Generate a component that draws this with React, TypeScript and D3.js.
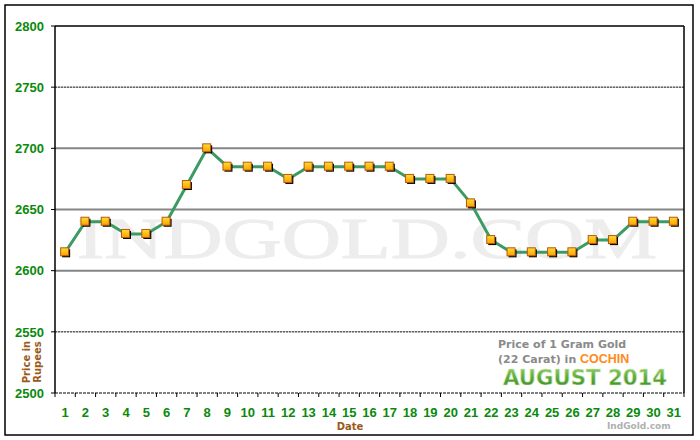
import React from "react";
import * as d3 from "d3";

const days: string[] = Array.from({ length: 31 }, (_, i) => String(i + 1));
const prices: number[] = [
  2615, 2640, 2640, 2630, 2630, 2640, 2670, 2700, 2685, 2685,
  2685, 2675, 2685, 2685, 2685, 2685, 2685, 2675, 2675, 2675,
  2655, 2625, 2615, 2615, 2615, 2615, 2625, 2625, 2640, 2640, 2640,
];
const yTicks: number[] = [2500, 2550, 2600, 2650, 2700, 2750, 2800];
const titleLine1 = "Price of 1 Gram Gold";
const titleLine2a = "(22 Carat) in ";
const titleCity = "COCHIN";
const titleMonth = "AUGUST 2014";

const W = 700, H = 440;
const L = 55, R = 684, T = 26, B = 393;

export default function App() {
  const x = d3.scaleBand<string>().domain(days).range([L, R]).padding(0);
  const y = d3.scaleLinear().domain([2500, 2800]).range([B, T]);
  const cx = (d: string) => (x(d) as number) + x.bandwidth() / 2;
  const line = d3
    .line<number>()
    .x((_, i) => cx(days[i]))
    .y((v) => y(v));
  const font = "'Liberation Sans', Arial, sans-serif";
  const vfont = "'DejaVu Sans', Verdana, sans-serif";
  const boundaries = days.map((d) => x(d) as number).concat([R]);

  return (
    <svg
      width={W}
      height={H}
      style={{ position: "absolute", left: 0, top: 0, background: "#fff" }}
    >
      <defs>
        <linearGradient id="mk" x1="0" y1="0" x2="0" y2="1">
          <stop offset="0" stopColor="#ffdd33" />
          <stop offset="1" stopColor="#ffa000" />
        </linearGradient>
        <linearGradient id="aug" x1="0" y1="0" x2="0" y2="1">
          <stop offset="0" stopColor="#9ad26a" />
          <stop offset="0.5" stopColor="#5aa83a" />
          <stop offset="1" stopColor="#3d8a22" />
        </linearGradient>
      </defs>
      <rect x={0} y={0} width={W} height={H} fill="#fff" />
      <rect x={5} y={5} width={688} height={430} fill="#fff" stroke="#000" strokeWidth={1.5} />

      {/* watermark */}
      <text
        x={77}
        y={258}
        fontFamily="'Liberation Serif', 'Times New Roman', serif"
        fontSize={57}
        fill="#ededed"
        stroke="#ededed"
        strokeWidth={1}
        textLength={580}
        lengthAdjust="spacingAndGlyphs"
      >
        INDGOLD.COM
      </text>

      {/* grid lines */}
      {yTicks
        .filter((t) => t > 2500 && t < 2800)
        .map((t) =>
          t === 2550 || t === 2750 ? (
            <g key={t}>
              <line x1={L} x2={R} y1={y(t)} y2={y(t)} stroke="#b0b0b0" strokeWidth={1} />
              <line x1={L} x2={R} y1={y(t)} y2={y(t)} stroke="#333" strokeWidth={1} strokeDasharray="2,1" />
            </g>
          ) : (
            <line key={t} x1={L} x2={R} y1={y(t)} y2={y(t)} stroke="#858585" strokeWidth={2} />
          )
        )}
      <line x1={L} x2={R} y1={B} y2={B} stroke="#000" strokeWidth={1} strokeDasharray="3,1" />
      <line x1={L} x2={R} y1={T} y2={T} stroke="#000" strokeWidth={1.5} />
      <line x1={L} x2={L} y1={T} y2={B} stroke="#000" strokeWidth={1.5} />
      <line x1={R} x2={R} y1={T} y2={B} stroke="#000" strokeWidth={1.5} />

      {/* y ticks & labels */}
      {yTicks.map((t) => (
        <g key={t}>
          <line x1={L - 4} x2={L} y1={y(t)} y2={y(t)} stroke="#000" strokeWidth={1} />
          <text
            x={44}
            y={y(t)}
            dy="0.36em"
            textAnchor="end"
            fontFamily={font}
            fontWeight="bold"
            fontSize={13}
            fill="#0a8a0a"
          >
            {t}
          </text>
        </g>
      ))}

      {/* x ticks & labels */}
      {boundaries.map((bx, i) => (
        <line key={"t" + i} x1={bx} x2={bx} y1={B} y2={B + 4} stroke="#000" strokeWidth={1} />
      ))}
      {days.map((d) => (
        <text
          key={d}
          x={cx(d)}
          y={417}
          textAnchor="middle"
          fontFamily={font}
          fontWeight="bold"
          fontSize={13}
          fill="#0a8a0a"
        >
          {d}
        </text>
      ))}

      <text x={350} y={430} textAnchor="middle" fontFamily={vfont} fontWeight="bold" fontSize={10} fill="#9a5a1a">
        Date
      </text>
      <g transform="translate(30,362) rotate(-90)">
        <text x={0} y={0} textAnchor="middle" fontFamily={vfont} fontWeight="bold" fontSize={10} fill="#9a5a1a">
          Price in
        </text>
        <text x={0} y={11} textAnchor="middle" fontFamily={vfont} fontWeight="bold" fontSize={10} fill="#9a5a1a">
          Rupees
        </text>
      </g>

      {/* series line */}
      <path d={line(prices) || ""} fill="none" stroke="#3c9b63" strokeWidth={3} strokeLinejoin="round" />

      {/* markers */}
      {prices.map((v, i) => (
        <g key={i}>
          <rect x={cx(days[i]) - 3} y={y(v) - 3} width={8} height={8} fill="#000" />
          <rect
            x={cx(days[i]) - 4.5}
            y={y(v) - 4.5}
            width={8}
            height={8}
            fill="url(#mk)"
            stroke="#b45a10"
            strokeWidth={1}
          />
        </g>
      ))}

      {/* title block */}
      <text x={498} y={348} fontFamily={vfont} fontWeight="bold" fontSize={11} fill="#8a8a8a">
        {titleLine1}
      </text>
      <text x={498} y={363} fontFamily={vfont} fontWeight="bold" fontSize={11} fill="#8a8a8a">
        {titleLine2a}
        <tspan fill="#ff8a1a" fontFamily={font} fontSize={12.5}>
          {titleCity}
        </tspan>
      </text>
      <text
        x={503}
        y={385}
        fontFamily={vfont}
        fontWeight="bold"
        fontSize={21}
        fill="url(#aug)"
        stroke="#d8ecc8"
        strokeWidth={0.6}
        textLength={164}
        lengthAdjust="spacingAndGlyphs"
      >
        {titleMonth}
      </text>
      <text x={607} y={429} fontFamily={vfont} fontWeight="bold" fontSize={9} fill="#b0b0b0">
        IndGold.com
      </text>
    </svg>
  );
}
